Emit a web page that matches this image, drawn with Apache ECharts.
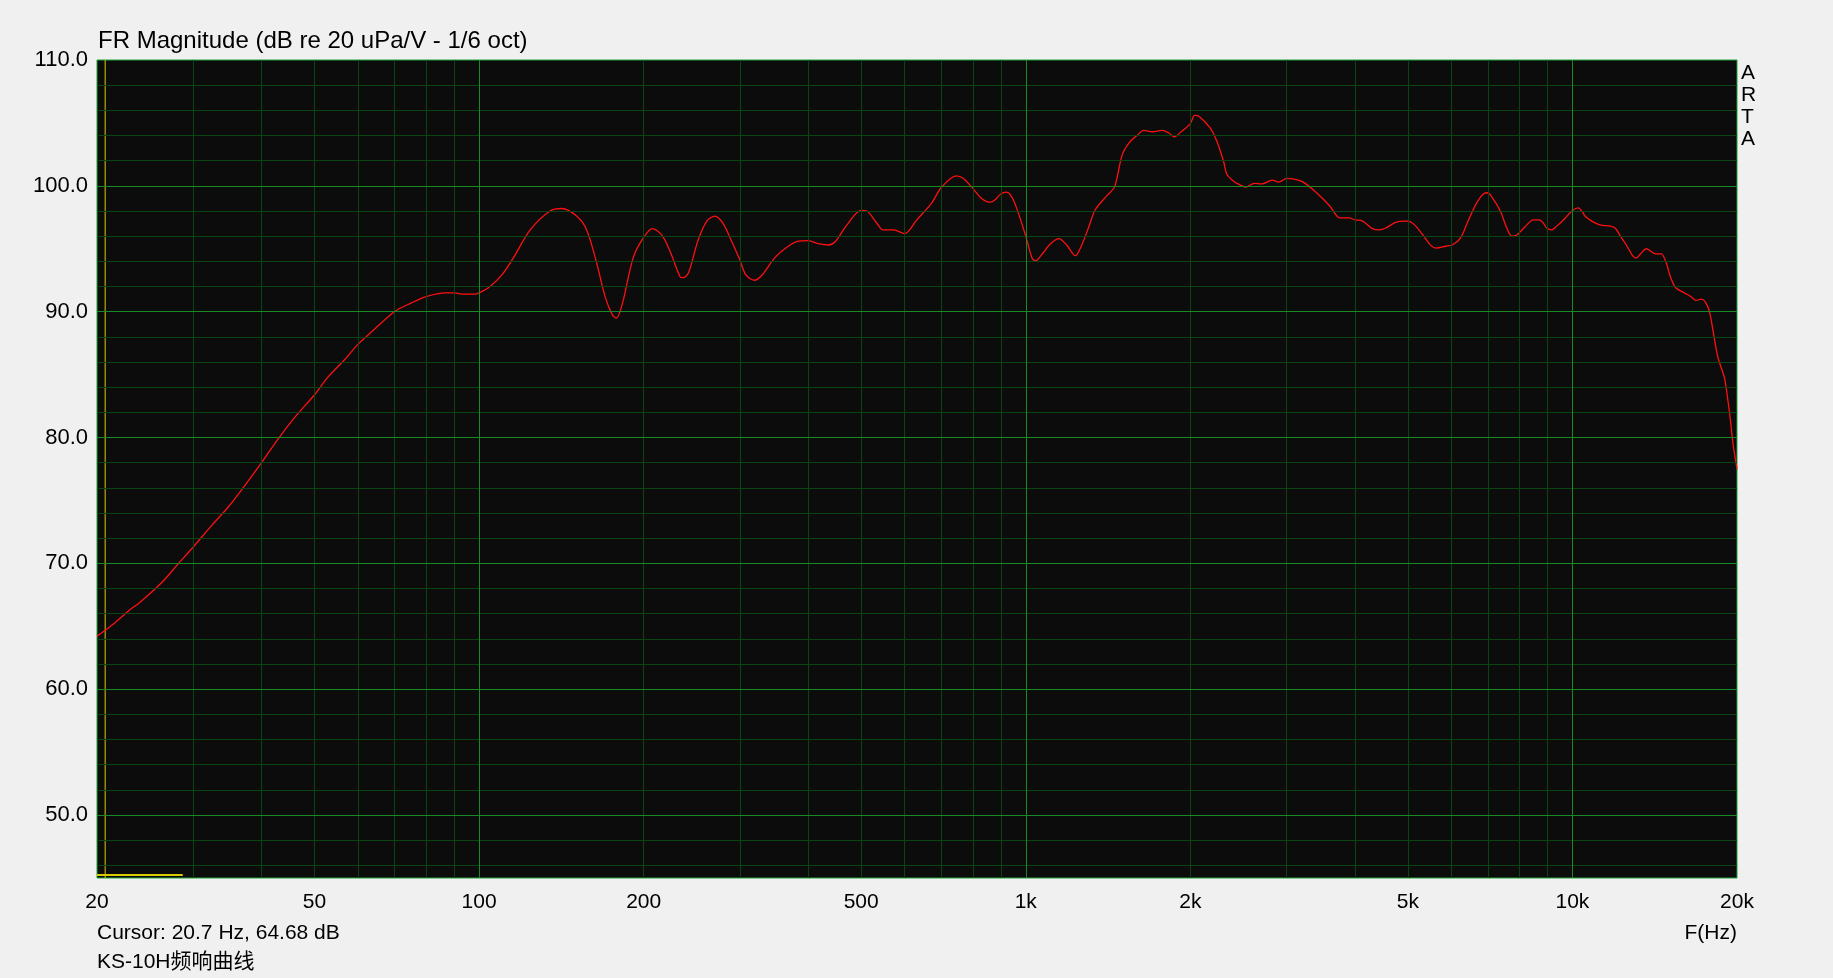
<!DOCTYPE html>
<html>
<head>
<meta charset="utf-8">
<script src="https://cdn.jsdelivr.net/npm/echarts@6/dist/echarts.min.js"></script>
<style>
html,body{margin:0;padding:0;background:#f0f0f0;}
#chart{width:1833px;height:978px;}
</style>
</head>
<body>
<div id="chart"></div>
<script>
// Frequency response (Hz, dB)
const freqs = [20,20.7,21.6,22.8,24.1,26.3,28.2,30,32.4,34.8,37.3,40,42.9,46,50,52.9,56.8,60,63.6,70,75.2,80,86.6,90,93,98,100,104,110,115.6,124,134.8,141.6,150.8,157.3,163.8,170,175.3,178.4,183,191.4,200,207.4,215.8,223.5,233,236,241.6,251.6,261,270,279,289,300,307.8,318.8,329,347.6,365,383.4,400,418,436,449,469,500,512,533.6,548,573,600,632,672,700,746,768,800,830,862,879,900,921,940,962,1000,1028,1042,1072,1110,1150,1188,1232,1263,1302,1340,1406,1451,1468,1502,1544,1598,1644,1704,1776,1827,1870,1924,2000,2036,2079,2174,2237,2300,2334,2403,2445,2525,2618,2704,2822,2904,3000,3085,3218,3403,3599,3752,3908,4000,4133,4307,4431,4556,4750,4920,5000,5143,5325,5514,5630,5867,6029,6240,6457,6681,6890,7000,7124,7379,7585,7745,7910,8192,8480,8695,8845,8970,9162,9360,9710,10000,10240,10460,10540,10845,11230,11710,11970,12240,12590,12860,13080,13320,13660,14190,14540,14810,15130,15450,16010,16470,16830,17190,17490,17810,18110,18450,18980,19170,19390,19670,19950,20000];
const magnitude = [64.2,64.68,65.3,66.2,67.0,68.5,70.0,71.3,73.0,74.5,76.2,78.0,79.9,81.6,83.4,84.8,86.2,87.4,88.4,90.0,90.7,91.2,91.5,91.5,91.4,91.4,91.5,91.9,92.9,94.3,96.5,98.0,98.2,97.6,96.5,94.0,91.2,89.75,89.5,90.7,94.3,95.9,96.6,96.1,94.8,92.8,92.7,93.1,95.7,97.2,97.6,97.05,95.7,94.1,92.9,92.5,92.9,94.3,95.1,95.6,95.65,95.4,95.3,95.6,96.8,98.05,98.0,97.05,96.5,96.5,96.2,97.3,98.6,99.85,100.8,100.6,99.8,99.0,98.7,98.9,99.35,99.5,99.2,98.25,96.0,94.2,94.05,94.6,95.4,95.8,95.3,94.45,95.2,96.65,98.1,99.2,99.85,100.6,102.5,103.4,104.0,104.4,104.3,104.4,104.2,103.9,104.3,104.95,105.6,105.5,104.6,103.55,101.95,100.9,100.35,100.15,99.9,100.2,100.15,100.45,100.3,100.6,100.55,100.3,99.45,98.4,97.45,97.45,97.3,97.2,96.6,96.5,96.65,97.1,97.2,97.2,96.9,96.1,95.25,95.05,95.2,95.3,95.85,97.3,98.65,99.4,99.45,99.1,98.0,96.65,96.0,96.1,96.75,97.3,97.3,97.05,96.65,96.5,96.8,97.45,98.05,98.25,97.85,97.6,97.2,96.9,96.8,96.65,96.0,95.2,94.5,94.25,94.6,95.0,94.6,94.6,94.0,92.7,91.9,91.5,91.2,90.9,91.0,90.8,90.0,88.3,86.4,84.7,83.5,81.9,79.5,77.8,77.5];

// Axis ticks and grid
const xTickLabels = [20,50,100,200,500,1000,2000,5000,10000,20000];
const yTickLabels = [50,60,70,80,90,100,110];
const xMinorGrid = [30,40,50,60,70,80,90,200,300,400,500,600,700,800,900,2000,3000,4000,5000,6000,7000,8000,9000];
const xMajorGrid = [100,1000,10000];
const yMinorGrid = [46,48,52,54,56,58,62,64,66,68,72,74,76,78,82,84,86,88,92,94,96,98,102,104,106,108];
const yMajorGrid = [50,60,70,80,90,100];

// Cursor
const cursorFreq = 20.7;
const cursorDb = 64.68;
const markerFreqs = [20, 28.7];
const markerDb = 45.24;

const FONT = 'Arial, "Liberation Sans", "Noto Sans CJK SC", sans-serif';
const minorColor = '#0a4412';
const majorColor = '#168a24';

const gridLines = [];
xMinorGrid.forEach(v => gridLines.push({xAxis: v, lineStyle: {color: minorColor}}));
yMinorGrid.forEach(v => gridLines.push({yAxis: v, lineStyle: {color: minorColor}}));
xMajorGrid.forEach(v => gridLines.push({xAxis: v, lineStyle: {color: majorColor}}));
yMajorGrid.forEach(v => gridLines.push({yAxis: v, lineStyle: {color: majorColor}}));

const chart = echarts.init(document.getElementById('chart'), null, {renderer: 'canvas'});
chart.setOption({
  animation: false,
  backgroundColor: '#f0f0f0',
  textStyle: {fontFamily: FONT},
  grid: {left: 97, top: 60, width: 1640, height: 818, show: true, backgroundColor: '#0c0c0c', borderColor: '#1ca235', borderWidth: 1},
  xAxis: {
    type: 'log', logBase: 10, min: 20, max: 20000,
    axisLine: {show: false}, axisTick: {show: false}, splitLine: {show: false}, minorSplitLine: {show: false},
    axisLabel: {
      customValues: xTickLabels, color: '#000', fontSize: 21, fontFamily: FONT, margin: 14,
      formatter: v => v >= 1000 ? (v / 1000) + 'k' : String(v)
    }
  },
  yAxis: {
    type: 'value', min: 45, max: 110,
    axisLine: {show: false}, axisTick: {show: false}, splitLine: {show: false},
    axisLabel: {
      customValues: yTickLabels, color: '#000', fontSize: 22, fontFamily: FONT, margin: 9,
      padding: [6, 0, 0, 0],
      formatter: v => Number(v).toFixed(1)
    }
  },
  series: [
    {
      type: 'line', data: [], silent: true, z: 1,
      markLine: {silent: true, symbol: 'none', animation: false, label: {show: false},
        lineStyle: {type: 'solid', width: 1}, data: gridLines}
    },
    {
      type: 'line', silent: true, z: 2, symbol: 'none',
      lineStyle: {color: '#d8cc00', width: 1},
      data: [[cursorFreq, 45], [cursorFreq, 110]]
    },
    {
      type: 'line', silent: true, z: 2, symbol: 'none',
      lineStyle: {color: '#d8cc00', width: 2},
      data: markerFreqs.map(f => [f, markerDb])
    },
    {
      type: 'line', silent: true, z: 3, symbol: 'none', smooth: 0.3,
      lineStyle: {color: '#ff1010', width: 1.3},
      data: freqs.map((f, i) => [f, magnitude[i]])
    }
  ],
  graphic: [
    {type: 'text', left: 98, top: 29, style: {text: 'FR Magnitude (dB re 20 uPa/V - 1/6 oct)', font: '24px ' + FONT, fill: '#000'}},
    {type: 'text', left: 1741, top: 62, style: {text: 'A\nR\nT\nA', font: '21px ' + FONT, fill: '#000', lineHeight: 22}},
    {type: 'text', left: 97, top: 923, style: {text: 'Cursor: ' + cursorFreq + ' Hz, ' + cursorDb.toFixed(2) + ' dB', font: '21px ' + FONT, fill: '#000'}},
    {type: 'text', left: 97, top: 952, style: {text: 'KS-10H频响曲线', font: '21px ' + FONT, fill: '#000'}},
    {type: 'text', right: 96, top: 923, style: {text: 'F(Hz)', font: '21px ' + FONT, fill: '#000'}}
  ]
});
</script>
</body>
</html>
